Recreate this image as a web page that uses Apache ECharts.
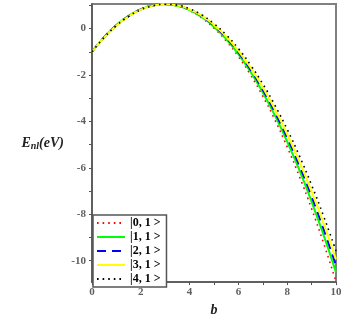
<!DOCTYPE html>
<html>
<head>
<meta charset="utf-8">
<script src="https://cdn.jsdelivr.net/npm/echarts@6/dist/echarts.min.js"></script>
<style>html,body{margin:0;padding:0;background:#fff}#c{width:359px;height:322px}</style>
</head>
<body>
<div id="c"></div>
<script>
// b values
const bValues = [0,0.5,1,1.5,2,2.5,3,3.5,4,4.5,5,5.5,6,6.5,7,7.5,8,8.5,9,9.5,10];
// E_nl (eV)
const E01 = [-1.00,-0.36,0.16,0.56,0.84,1.01,1.05,0.97,0.78,0.46,0.02,-0.53,-1.20,-2.00,-2.91,-3.94,-5.10,-6.37,-7.76,-9.27,-10.90];
const E11 = [-1.00,-0.37,0.15,0.55,0.83,1.00,1.05,0.98,0.80,0.50,0.08,-0.45,-1.10,-1.87,-2.75,-3.75,-4.87,-6.10,-7.45,-8.92,-10.50];
const E21 = [-1.00,-0.37,0.14,0.54,0.83,0.99,1.05,0.99,0.82,0.53,0.13,-0.39,-1.02,-1.77,-2.63,-3.61,-4.70,-5.90,-7.22,-8.66,-10.20];
const E31 = [-1.00,-0.38,0.13,0.53,0.82,0.99,1.05,1.00,0.83,0.55,0.16,-0.34,-0.96,-1.68,-2.53,-3.48,-4.55,-5.73,-7.02,-8.42,-9.94];
const E41 = [-1.00,-0.38,0.13,0.52,0.81,0.98,1.05,1.01,0.85,0.59,0.21,-0.27,-0.86,-1.57,-2.38,-3.31,-4.34,-5.48,-6.74,-8.10,-9.58];
const seriesNames = ['|0, 1 >','|1, 1 >','|2, 1 >','|3, 1 >','|4, 1 >'];
const xTicks = [0,1,2,3,4,5,6,7,8,9,10];
const xLabels = [0,2,4,6,8,10];
const yTicks = [-10,-9,-8,-7,-6,-5,-4,-3,-2,-1,0,1];
const yLabels = [-10,-8,-6,-4,-2,0];

const pair = arr => bValues.map((b,i)=>[b,arr[i]]);
const styles = [
  {color:'#ff0000', width:1.6, type:[1.6,4]},
  {color:'#00ff00', width:2, type:'solid'},
  {color:'#0000ff', width:2, type:[9,6]},
  {color:'#ffff00', width:2, type:'solid'},
  {color:'#000000', width:1.6, type:[1.6,4]}
];
const allData = [E01,E11,E21,E31,E41];

const chart = echarts.init(document.getElementById('c'), null, {renderer:'canvas'});
const labelFont = {fontFamily:'Liberation Serif', fontWeight:'bold', fontSize:11, color:'#606060'};
chart.setOption({
  animation:false,
  grid:{left:92, top:4, right:23, bottom:31, show:true, borderColor:'#808080', borderWidth:2},
  legend:{
    orient:'vertical', left:93, top:215,
    itemWidth:28, itemHeight:10, itemGap:2,
    padding:[2,6,2,3],
    borderColor:'#555', borderWidth:1.5, backgroundColor:'#fff',
    itemStyle:{opacity:0},
    textStyle:{fontFamily:'Liberation Serif', fontWeight:'bold', fontSize:12, color:'#000'},
    data: seriesNames
  },
  xAxis:{
    type:'value', min:0, max:10,
    name:'b', nameLocation:'middle', nameGap:16,
    nameTextStyle:{fontFamily:'Liberation Serif', fontWeight:'bold', fontStyle:'italic', fontSize:14, color:'#222'},
    axisLine:{show:true, onZero:false, lineStyle:{color:'#555', width:1.5}},
    axisTick:{show:true, length:3, customValues:xTicks, lineStyle:{color:'#555'}},
    axisLabel:Object.assign({margin:5, customValues:xLabels}, labelFont),
    splitLine:{show:false}
  },
  yAxis:{
    type:'value', min:-10.92, max:1.06,
    name:'{E|E}{s|nl}{p|(eV)}', nameLocation:'middle', nameRotate:0, nameGap:28,
    nameTextStyle:{rich:{
      E:{fontFamily:'Liberation Serif', fontWeight:'bold', fontStyle:'italic', fontSize:14, color:'#222'},
      s:{fontFamily:'Liberation Serif', fontWeight:'bold', fontStyle:'italic', fontSize:10, color:'#222', verticalAlign:'bottom', padding:[6,0,0,0]},
      p:{fontFamily:'Liberation Serif', fontWeight:'bold', fontStyle:'italic', fontSize:14, color:'#222'}
    }},
    axisLine:{show:true, onZero:false, lineStyle:{color:'#555', width:1.5}},
    axisTick:{show:true, length:3, customValues:yTicks, lineStyle:{color:'#555'}},
    axisLabel:Object.assign({margin:6, customValues:yLabels}, labelFont),
    splitLine:{show:false}
  },
  series: allData.map((d,i)=>({
    name: seriesNames[i], type:'line', data: pair(d), smooth:true,
    showSymbol:false, symbol:'none', clip:true,
    lineStyle:{color:styles[i].color, width:styles[i].width, type:styles[i].type},
    itemStyle:{color:styles[i].color},
    z: 2+i
  }))
});
</script>
</body>
</html>
